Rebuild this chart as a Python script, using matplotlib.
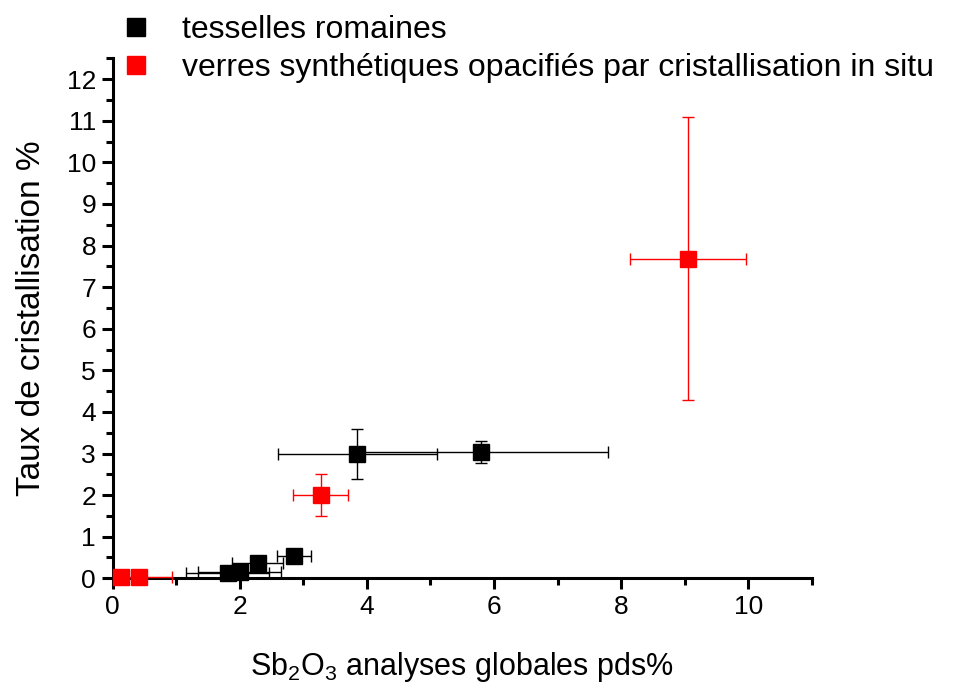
import matplotlib.pyplot as plt
from matplotlib.lines import Line2D
from matplotlib.ticker import MultipleLocator

plt.rcParams['font.family'] = ['Liberation Sans', 'DejaVu Sans']
plt.rcParams['mathtext.default'] = 'regular'

# tesselles romaines
tess_x = [1.81, 2.0, 2.28, 2.85, 3.85, 5.8]
tess_y = [0.13, 0.15, 0.36, 0.53, 2.98, 3.03]
tess_xerr = [0.65, 0.65, 0.4, 0.27, 1.25, 2.0]
tess_yerr = [0.05, 0.08, 0.1, 0.06, 0.6, 0.26]

# verres synthétiques (x error: lower, upper)
verre_x = [0.13, 0.42, 3.27, 9.05]
verre_y = [0.03, 0.03, 2.0, 7.68]
verre_xerr_lo = [0.0, 0.4, 0.43, 0.91]
verre_xerr_hi = [0.0, 0.52, 0.43, 0.91]
verre_yerr = [0.0, 0.0, 0.5, 3.4]

fig = plt.figure(figsize=(9.55, 6.86), dpi=100)
ax = fig.add_axes([0.118, 0.157, 0.732, 0.758])

ax.errorbar(tess_x, tess_y, xerr=tess_xerr, yerr=tess_yerr, fmt='s', color='black',
            ms=11, ecolor='black', elinewidth=1, capsize=4, capthick=1, clip_on=False, zorder=3)
ax.errorbar(verre_x, verre_y, xerr=[verre_xerr_lo, verre_xerr_hi], yerr=verre_yerr, fmt='s',
            color='red', ms=11, ecolor='red', elinewidth=1, capsize=4, capthick=1,
            clip_on=False, zorder=3)

ax.set_xlim(0, 11)
ax.set_ylim(0, 12.5)
ax.xaxis.set_major_locator(MultipleLocator(2))
ax.xaxis.set_minor_locator(MultipleLocator(1))
ax.yaxis.set_major_locator(MultipleLocator(1))
ax.yaxis.set_minor_locator(MultipleLocator(0.5))

for side in ['top', 'right']:
    ax.spines[side].set_visible(False)
for side in ['left', 'bottom']:
    ax.spines[side].set_linewidth(2.2)

ax.tick_params(which='major', direction='out', length=8, width=2.2, labelsize=19, pad=4)
ax.tick_params(which='minor', direction='out', length=5, width=2.2)

ax.set_xlabel('Sb$_2$O$_3$ analyses globales pds%', fontsize=22, labelpad=22)
ax.set_ylabel('Taux de cristallisation %', fontsize=24, labelpad=14)

handles = [Line2D([], [], ls='none', marker='s', ms=13, color='black'),
           Line2D([], [], ls='none', marker='s', ms=13, color='red')]
labels = ['tesselles romaines', 'verres synthétiques opacifiés par cristallisation in situ']
fig.legend(handles, labels, loc='upper left', bbox_to_anchor=(0.092, 1.02), frameon=False,
           fontsize=23, handletextpad=0.85, labelspacing=0.26, handlelength=1.2)

fig.savefig('out.png', dpi=100)
